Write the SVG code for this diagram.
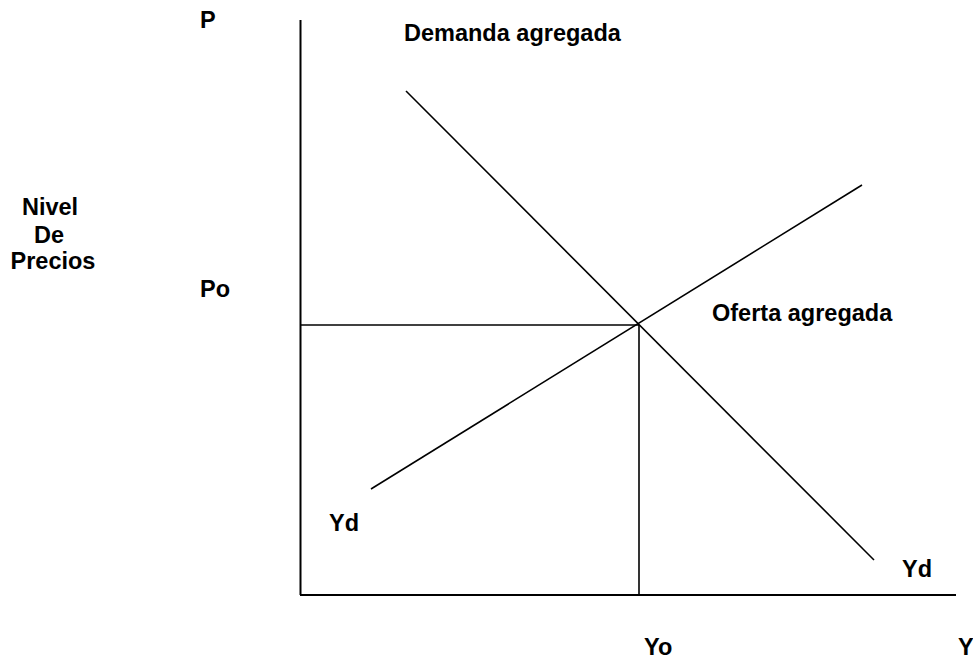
<svg xmlns="http://www.w3.org/2000/svg" width="973" height="660" viewBox="0 0 973 660">
<style>
text{font-family:"Liberation Sans",Arial,sans-serif;font-weight:bold;font-size:23.5px;fill:#000}
.ax{stroke:#000;stroke-width:2;fill:none}
.ln{stroke:#000;stroke-width:1.6;fill:none}
</style>
<rect width="973" height="660" fill="#fff"/>
<g id="connectors">
<line class="ax" x1="300.5" y1="20" x2="300.5" y2="595"/>
<line class="ax" x1="300" y1="595" x2="956" y2="595"/>
<line class="ln" x1="300" y1="325" x2="639" y2="325"/>
<line class="ln" x1="639" y1="325" x2="639" y2="595"/>
<line class="ln" x1="406" y1="91" x2="874" y2="560"/>
<line class="ln" x1="371" y1="489" x2="862" y2="185"/>
</g>
<g id="label-P"><text x="200" y="28">P</text></g>
<g id="label-demanda"><text x="404" y="41">Demanda agregada</text></g>
<g id="label-nivel"><text text-anchor="middle" x="50"><tspan x="50" y="215">Nivel</tspan><tspan x="49" y="243">De</tspan><tspan x="53" y="269">Precios</tspan></text></g>
<g id="label-Po"><text x="200" y="297">Po</text></g>
<g id="label-oferta"><text x="712" y="321">Oferta agregada</text></g>
<g id="label-Yd1"><text x="329" y="531">Yd</text></g>
<g id="label-Yd2"><text x="902" y="577">Yd</text></g>
<g id="label-Yo"><text x="644" y="655">Yo</text></g>
<g id="label-Y"><text x="958" y="655">Y</text></g>
</svg>
